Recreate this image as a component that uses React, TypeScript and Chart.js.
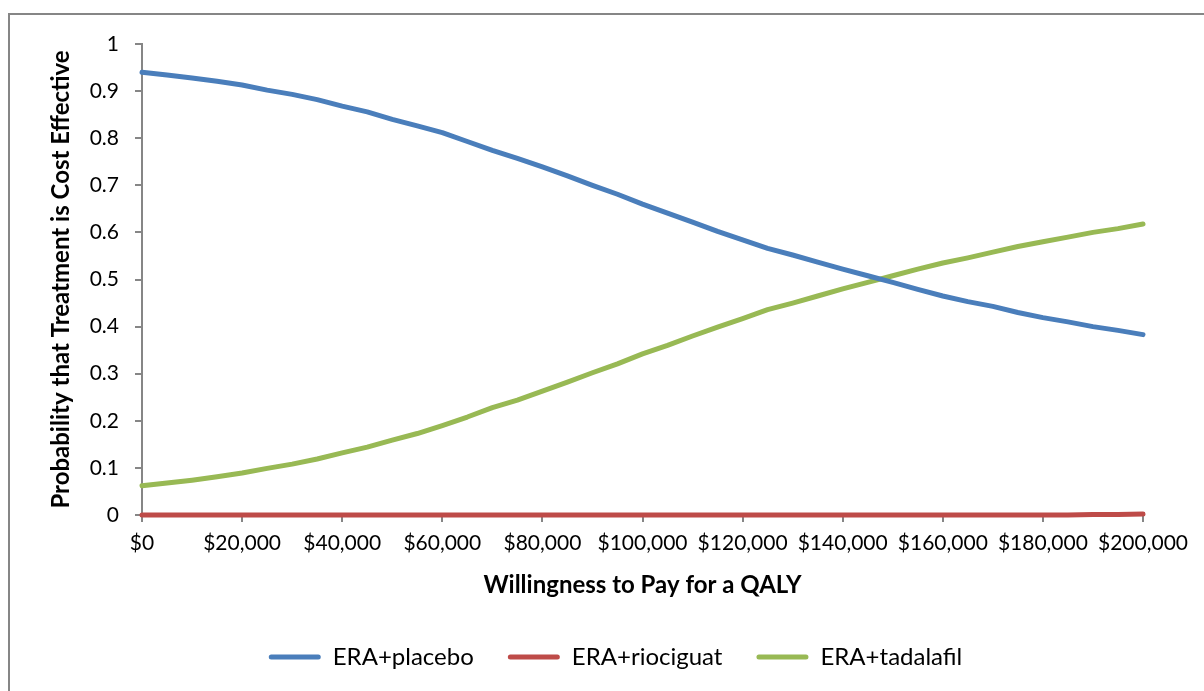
import React, { useEffect, useRef } from "react";
import { Chart, registerables } from "chart.js";

Chart.register(...registerables);

const wtp = [
  0, 5000, 10000, 15000, 20000, 25000, 30000, 35000, 40000, 45000,
  50000, 55000, 60000, 65000, 70000, 75000, 80000, 85000, 90000, 95000,
  100000, 105000, 110000, 115000, 120000, 125000, 130000, 135000, 140000, 145000,
  150000, 155000, 160000, 165000, 170000, 175000, 180000, 185000, 190000, 195000,
  200000,
];

const placebo = [
  0.940, 0.934, 0.928, 0.921, 0.913, 0.902, 0.893, 0.882, 0.868, 0.856,
  0.840, 0.826, 0.812, 0.793, 0.774, 0.757, 0.739, 0.720, 0.700, 0.681,
  0.660, 0.641, 0.622, 0.602, 0.584, 0.566, 0.552, 0.537, 0.522, 0.508,
  0.494, 0.479, 0.465, 0.453, 0.443, 0.430, 0.419, 0.410, 0.400, 0.392,
  0.383,
];

const riociguat = [
  0, 0, 0, 0, 0, 0, 0, 0, 0, 0,
  0, 0, 0, 0, 0, 0, 0, 0, 0, 0,
  0, 0, 0, 0, 0, 0, 0, 0, 0, 0,
  0, 0, 0, 0, 0, 0, 0, 0, 0.001, 0.001,
  0.002,
];

const tadalafil = [
  0.062, 0.068, 0.074, 0.081, 0.089, 0.099, 0.108, 0.119, 0.132, 0.144,
  0.159, 0.173, 0.190, 0.208, 0.228, 0.244, 0.263, 0.282, 0.302, 0.321,
  0.342, 0.360, 0.380, 0.399, 0.417, 0.436, 0.450, 0.465, 0.480, 0.494,
  0.508, 0.522, 0.535, 0.546, 0.558, 0.570, 0.580, 0.590, 0.600, 0.608,
  0.618,
];

const seriesNames = ["ERA+placebo", "ERA+riociguat", "ERA+tadalafil"];
const seriesColors = ["#4A7EBB", "#BE4B48", "#98B954"];
const xTitle = "Willingness to Pay for a QALY";
const yTitle = "Probability that Treatment is Cost Effective";

const FONT = "Lato, 'Open Sans', sans-serif";
const AXIS = "#868686";

const legendShift = {
  id: "legendShift",
  afterLayout(chart: any) {
    const lg = chart.legend;
    if (lg) {
      lg.left += 39;
      lg.right += 39;
    }
  },
};

export default function App() {
  const ref = useRef<HTMLCanvasElement | null>(null);

  useEffect(() => {
    if (!ref.current) return;
    const toPts = (vals: number[]) => vals.map((v, i) => ({ x: wtp[i], y: v }));
    const allSeries = [placebo, riociguat, tadalafil];
    const chart = new Chart(ref.current, {
      type: "line",
      plugins: [legendShift],
      data: {
        datasets: allSeries.map((vals, i) => ({
          label: seriesNames[i],
          data: toPts(vals),
          borderColor: seriesColors[i],
          backgroundColor: seriesColors[i],
          borderWidth: 5,
          pointRadius: 0,
          tension: 0,
          borderCapStyle: "round" as const,
          borderJoinStyle: "round" as const,
          clip: false as any,
        })),
      },
      options: {
        animation: false,
        responsive: false,
        layout: { padding: { top: 29, right: 61, left: 0, bottom: 12 } },
        plugins: {
          tooltip: { enabled: false },
          legend: {
            position: "bottom",
            labels: {
              color: "#000",
              font: { family: FONT, size: 24 },
              boxWidth: 52,
              boxHeight: 5,
              padding: 34,
              generateLabels: (c: any) => {
                const items = Chart.defaults.plugins.legend.labels.generateLabels(c);
                return items.map((it: any) => ({ ...it, lineWidth: 0, borderRadius: 2.5 }));
              },
            },
          },
        },
        scales: {
          x: {
            type: "linear",
            min: 0,
            max: 200000,
            afterFit: (s: any) => {
              s.height = 96;
            },
            ticks: {
              stepSize: 20000,
              color: "#000",
              padding: 9,
              maxRotation: 0,
              font: { family: FONT, size: 21 },
              callback: (v: any) => "$" + Number(v).toLocaleString("en-US"),
            },
            grid: {
              display: true,
              drawOnChartArea: false,
              drawTicks: true,
              tickLength: 7,
              color: AXIS,
              lineWidth: 2,
            },
            border: { display: true, color: AXIS, width: 2 },
            title: {
              display: true,
              text: xTitle,
              color: "#000",
              font: { family: FONT, size: 24, weight: "bold" },
              padding: { top: 0, bottom: 11 },
            },
          },
          y: {
            type: "linear",
            min: 0,
            max: 1,
            afterFit: (s: any) => {
              s.width = 132;
            },
            ticks: {
              stepSize: 0.1,
              color: "#000",
              padding: 16,
              font: { family: FONT, size: 21 },
              callback: (v: any) => String(Number(Number(v).toFixed(1))),
            },
            grid: {
              display: true,
              drawOnChartArea: false,
              drawTicks: true,
              tickLength: 7,
              color: AXIS,
              lineWidth: 2,
            },
            border: { display: true, color: AXIS, width: 2 },
            title: {
              display: true,
              text: yTitle,
              color: "#000",
              font: { family: FONT, size: 24, weight: "bold" },
              padding: { top: 37, bottom: 0 },
            },
          },
        },
      },
    });
    return () => chart.destroy();
  }, []);

  return (
    <div
      style={{
        position: "absolute",
        left: 8,
        top: 13,
        width: 1196,
        height: 678,
        boxSizing: "border-box",
        borderTop: `2px solid ${AXIS}`,
        borderLeft: `2px solid ${AXIS}`,
        background: "#fff",
        overflow: "hidden",
      }}
    >
      <canvas ref={ref} width={1194} height={676} style={{ display: "block", width: 1194, height: 676 }} />
    </div>
  );
}
